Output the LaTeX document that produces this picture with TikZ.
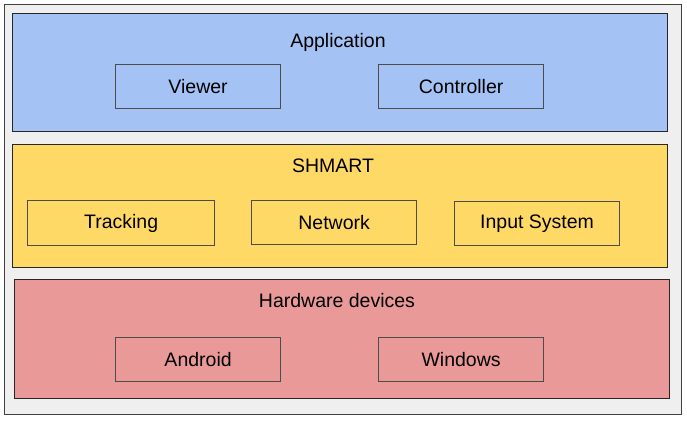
\documentclass[tikz,border=0pt]{standalone}
\usepackage{fontspec}
\setmainfont{Liberation Sans}
\usetikzlibrary{positioning}
\definecolor{appblue}{HTML}{A4C2F4}
\definecolor{shmyellow}{HTML}{FFD966}
\definecolor{hwred}{HTML}{EA9999}
\definecolor{framegray}{HTML}{EFEFEF}
\tikzset{layer/.style={draw=black!85, line width=1.2pt, anchor=north west,
                       minimum width=655pt, minimum height=118pt, inner sep=0pt},
         module/.style={draw=black!70, line width=1.2pt, fill=#1, anchor=north west,
                        minimum width=165pt, minimum height=44pt, inner sep=0pt,
                        font=\fontsize{19.5}{23}\selectfont},
         title/.style={font=\fontsize{19.5}{23}\selectfont, inner sep=0pt}}

\begin{document}
\begin{tikzpicture}[x=1pt, y=-1pt]
	\useasboundingbox (0,0) rectangle (687,421);
	\node[draw=black!75, line width=1.2pt, fill=framegray, anchor=north west,
	      minimum width=677pt, minimum height=410pt, inner sep=0pt] (frame) at (4,4) {};

	% application layer
	\node[layer, fill=appblue] (app) at (12,13) {};
	\node[title] (apptitle) at (338,42) {Application};
	\node[module=appblue] (viewer) at (115,64) {Viewer};
	\node[module=appblue] (controller) at (378,64) {Controller};

	% shmart layer
	\node[layer, fill=shmyellow, minimum height=123pt] (shmart) at (12,144) {};
	\node[title] (shmarttitle) at (333,166) {SHMART};
	\node[module=shmyellow, minimum width=187pt, minimum height=45pt] (tracking) at (27,200) {Tracking};
	\node[module=shmyellow] (network) at (251,200) {Network};
	\node[module=shmyellow] (input) at (454,201) {Input System};

	% hardware layer
	\node[layer, fill=hwred, minimum height=119pt] (hw) at (14,279) {};
	\node[title] (hwtitle) at (337,301) {Hardware devices};
	\node[module=hwred] (android) at (115,337) {Android};
	\node[module=hwred] (windows) at (378,337) {Windows};
\end{tikzpicture}
\end{document}
